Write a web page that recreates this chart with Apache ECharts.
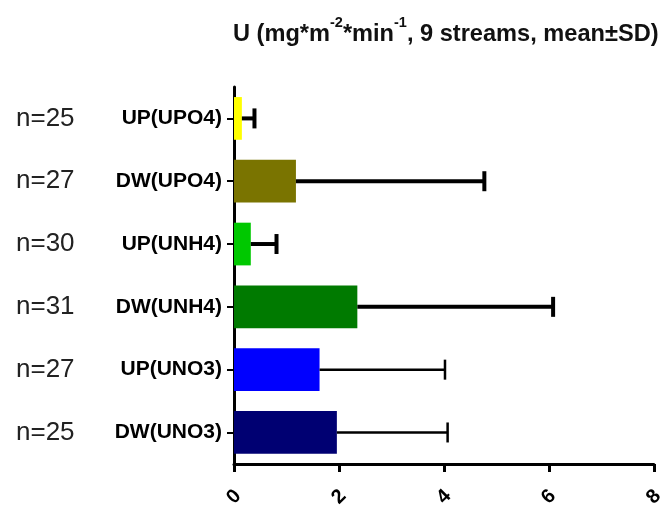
<!DOCTYPE html>
<html>
<head>
<meta charset="utf-8">
<script src="https://cdn.jsdelivr.net/npm/echarts@6/dist/echarts.min.js"></script>
<style>html,body{margin:0;padding:0;background:#fff}#c{width:667px;height:510px}</style>
</head>
<body>
<div id="c"></div>
<script>
const categories = ['UP(UPO4)', 'DW(UPO4)', 'UP(UNH4)', 'DW(UNH4)', 'UP(UNO3)', 'DW(UNO3)'];
const nLabels = ['n=25', 'n=27', 'n=30', 'n=31', 'n=27', 'n=25'];
const means = [0.15, 1.18, 0.32, 2.35, 1.63, 1.96];
const sds = [0.24, 3.59, 0.49, 3.73, 2.39, 2.11];
const xTicks = [0, 2, 4, 6, 8];

const barColors = ['#ffff00', '#7a7400', '#00c800', '#007a00', '#0000ff', '#000072'];
const FONT = 'Liberation Sans';

const chart = echarts.init(document.getElementById('c'), null, {renderer: 'canvas'});
chart.setOption({
  animation: false,
  backgroundColor: '#fff',
  title: {
    text: '{a|U (mg*m}{s|-2}{a|*min}{s|-1}{a|, 9 streams, mean±SD)}',
    left: 233,
    top: 15,
    padding: 0,
    textStyle: {
      rich: {
        a: {fontSize: 23.6, fontWeight: 'bold', fontFamily: FONT, color: '#111', lineHeight: 31, verticalAlign: 'bottom'},
        s: {fontSize: 14.5, fontWeight: 'bold', fontFamily: FONT, color: '#111', lineHeight: 14, verticalAlign: 'top'}
      }
    }
  },
  grid: {left: 234, right: 7, top: 87, bottom: 45, containLabel: false},
  xAxis: {
    type: 'value',
    min: xTicks[0],
    max: xTicks[xTicks.length - 1],
    interval: xTicks[1] - xTicks[0],
    axisLine: {show: true, lineStyle: {color: '#000', width: 3}},
    axisTick: {show: true, length: 8, lineStyle: {color: '#000', width: 3}},
    splitLine: {show: false},
    axisLabel: {
      rotate: 45, align: 'center', verticalAlign: 'middle', margin: 33,
      fontSize: 20, fontWeight: 'bold', fontFamily: FONT, color: '#000'
    }
  },
  yAxis: [{
    type: 'category',
    data: categories,
    inverse: true,
    axisLine: {show: true, lineStyle: {color: '#000', width: 3}},
    axisTick: {show: true, length: 7, alignWithLabel: true, lineStyle: {color: '#000', width: 2}},
    axisLabel: {margin: 12, fontSize: 21, fontWeight: 'bold', fontFamily: FONT, color: '#000'}
  }, {
    type: 'category',
    data: nLabels,
    inverse: true,
    position: 'left',
    axisLine: {show: false},
    axisTick: {show: false},
    axisLabel: {margin: 218, align: 'left', fontSize: 26, fontFamily: FONT, color: '#222'}
  }],
  series: [{
    type: 'bar',
    data: means.map((m, i) => ({value: m, itemStyle: {color: barColors[i]}})),
    barWidth: '68%',
    xAxisIndex: 0,
    yAxisIndex: 0,
    z: 2
  }, {
    type: 'custom',
    xAxisIndex: 0,
    yAxisIndex: 0,
    data: means.map((m, i) => [m, i, sds[i]]),
    encode: {x: 0, y: 1},
    z: 3,
    renderItem: function (params, api) {
      const m = api.value(0), idx = api.value(1), sd = api.value(2);
      const s = api.coord([m, idx]);
      const e = api.coord([m + sd, idx]);
      const w = params.dataIndex < 4 ? 4 : 2.5;
      const capH = 20;
      return {
        type: 'group',
        children: [{
          type: 'line',
          shape: {x1: s[0], y1: s[1], x2: e[0], y2: e[1]},
          style: {stroke: '#000', lineWidth: w}
        }, {
          type: 'line',
          shape: {x1: e[0], y1: e[1] - capH / 2, x2: e[0], y2: e[1] + capH / 2},
          style: {stroke: '#000', lineWidth: w}
        }]
      };
    }
  }]
});
</script>
</body>
</html>
